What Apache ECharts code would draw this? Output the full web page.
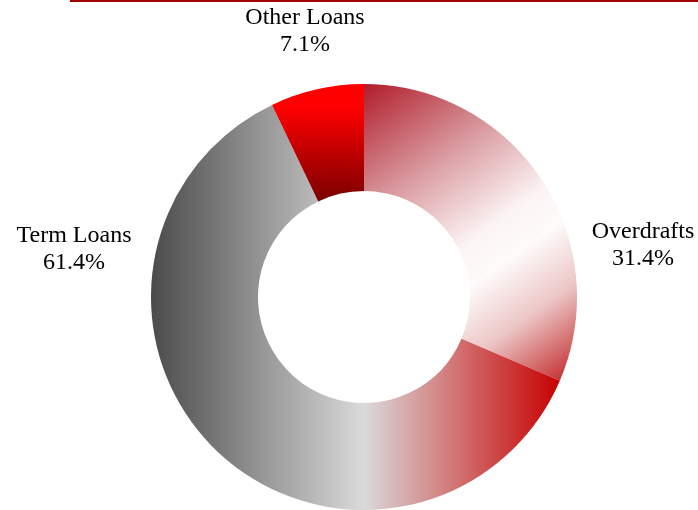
<!DOCTYPE html>
<html>
<head>
<meta charset="utf-8">
<script src="https://cdn.jsdelivr.net/npm/echarts@6/dist/echarts.min.js"></script>
<style>
html,body{margin:0;padding:0;background:#fff;}
#chart{width:698px;height:510px;}
</style>
</head>
<body>
<div id="chart"></div>
<script>
var categories = ['Overdrafts', 'Term Loans', 'Other Loans'];
var values = [31.4, 61.4, 7.1];

var fills = [
  {type:'linear', x:0, y:0, x2:1, y2:1, colorStops:[
    {offset:0, color:'#b01c2a'},
    {offset:0.3, color:'#dba0a5'},
    {offset:0.52, color:'#fcf4f4'},
    {offset:0.62, color:'#fefbfb'},
    {offset:0.78, color:'#ecc6c6'},
    {offset:1, color:'#c02020'}
  ]},
  {type:'linear', x:0, y:0, x2:1, y2:0, colorStops:[
    {offset:0, color:'#4b4b4b'},
    {offset:0.52, color:'#dadada'},
    {offset:1, color:'#c80000'}
  ]},
  {type:'linear', x:0, y:0, x2:0, y2:1, colorStops:[
    {offset:0, color:'#ff0000'},
    {offset:0.2, color:'#ff0000'},
    {offset:1, color:'#7a0000'}
  ]}
];

// label anchors relative to pie center
var labelOffsets = [[279, -52], [-290, -48], [-59, -266]];

var chart = echarts.init(document.getElementById('chart'), null, {renderer:'canvas'});
var cx = 364, cy = 297;
chart.setOption({
  animation: false,
  graphic: [{
    type: 'rect', shape: {x:70, y:0, width:628, height:2},
    style: {fill:'#a00000'}, silent: true
  }],
  series: [{
    type: 'pie',
    center: [cx, cy],
    radius: [106, 213],
    startAngle: 90,
    clockwise: true,
    avoidLabelOverlap: false,
    emphasis: {disabled: true},
    itemStyle: {borderWidth: 0},
    label: {
      show: true,
      position: 'outside',
      formatter: function(p){ return p.name + '\n' + p.value + '%'; },
      fontFamily: '"Liberation Serif", "Times New Roman", serif',
      fontSize: 24,
      lineHeight: 27,
      color: '#000',
      align: 'center'
    },
    labelLine: {show: false},
    labelLayout: function(params){
      var o = labelOffsets[params.dataIndex];
      return {x: cx + o[0], y: cy + o[1], align: 'center', verticalAlign: 'middle'};
    },
    data: categories.map(function(c, i){
      return {name: c, value: values[i], itemStyle: {color: fills[i]}};
    })
  }]
});
</script>
</body>
</html>
